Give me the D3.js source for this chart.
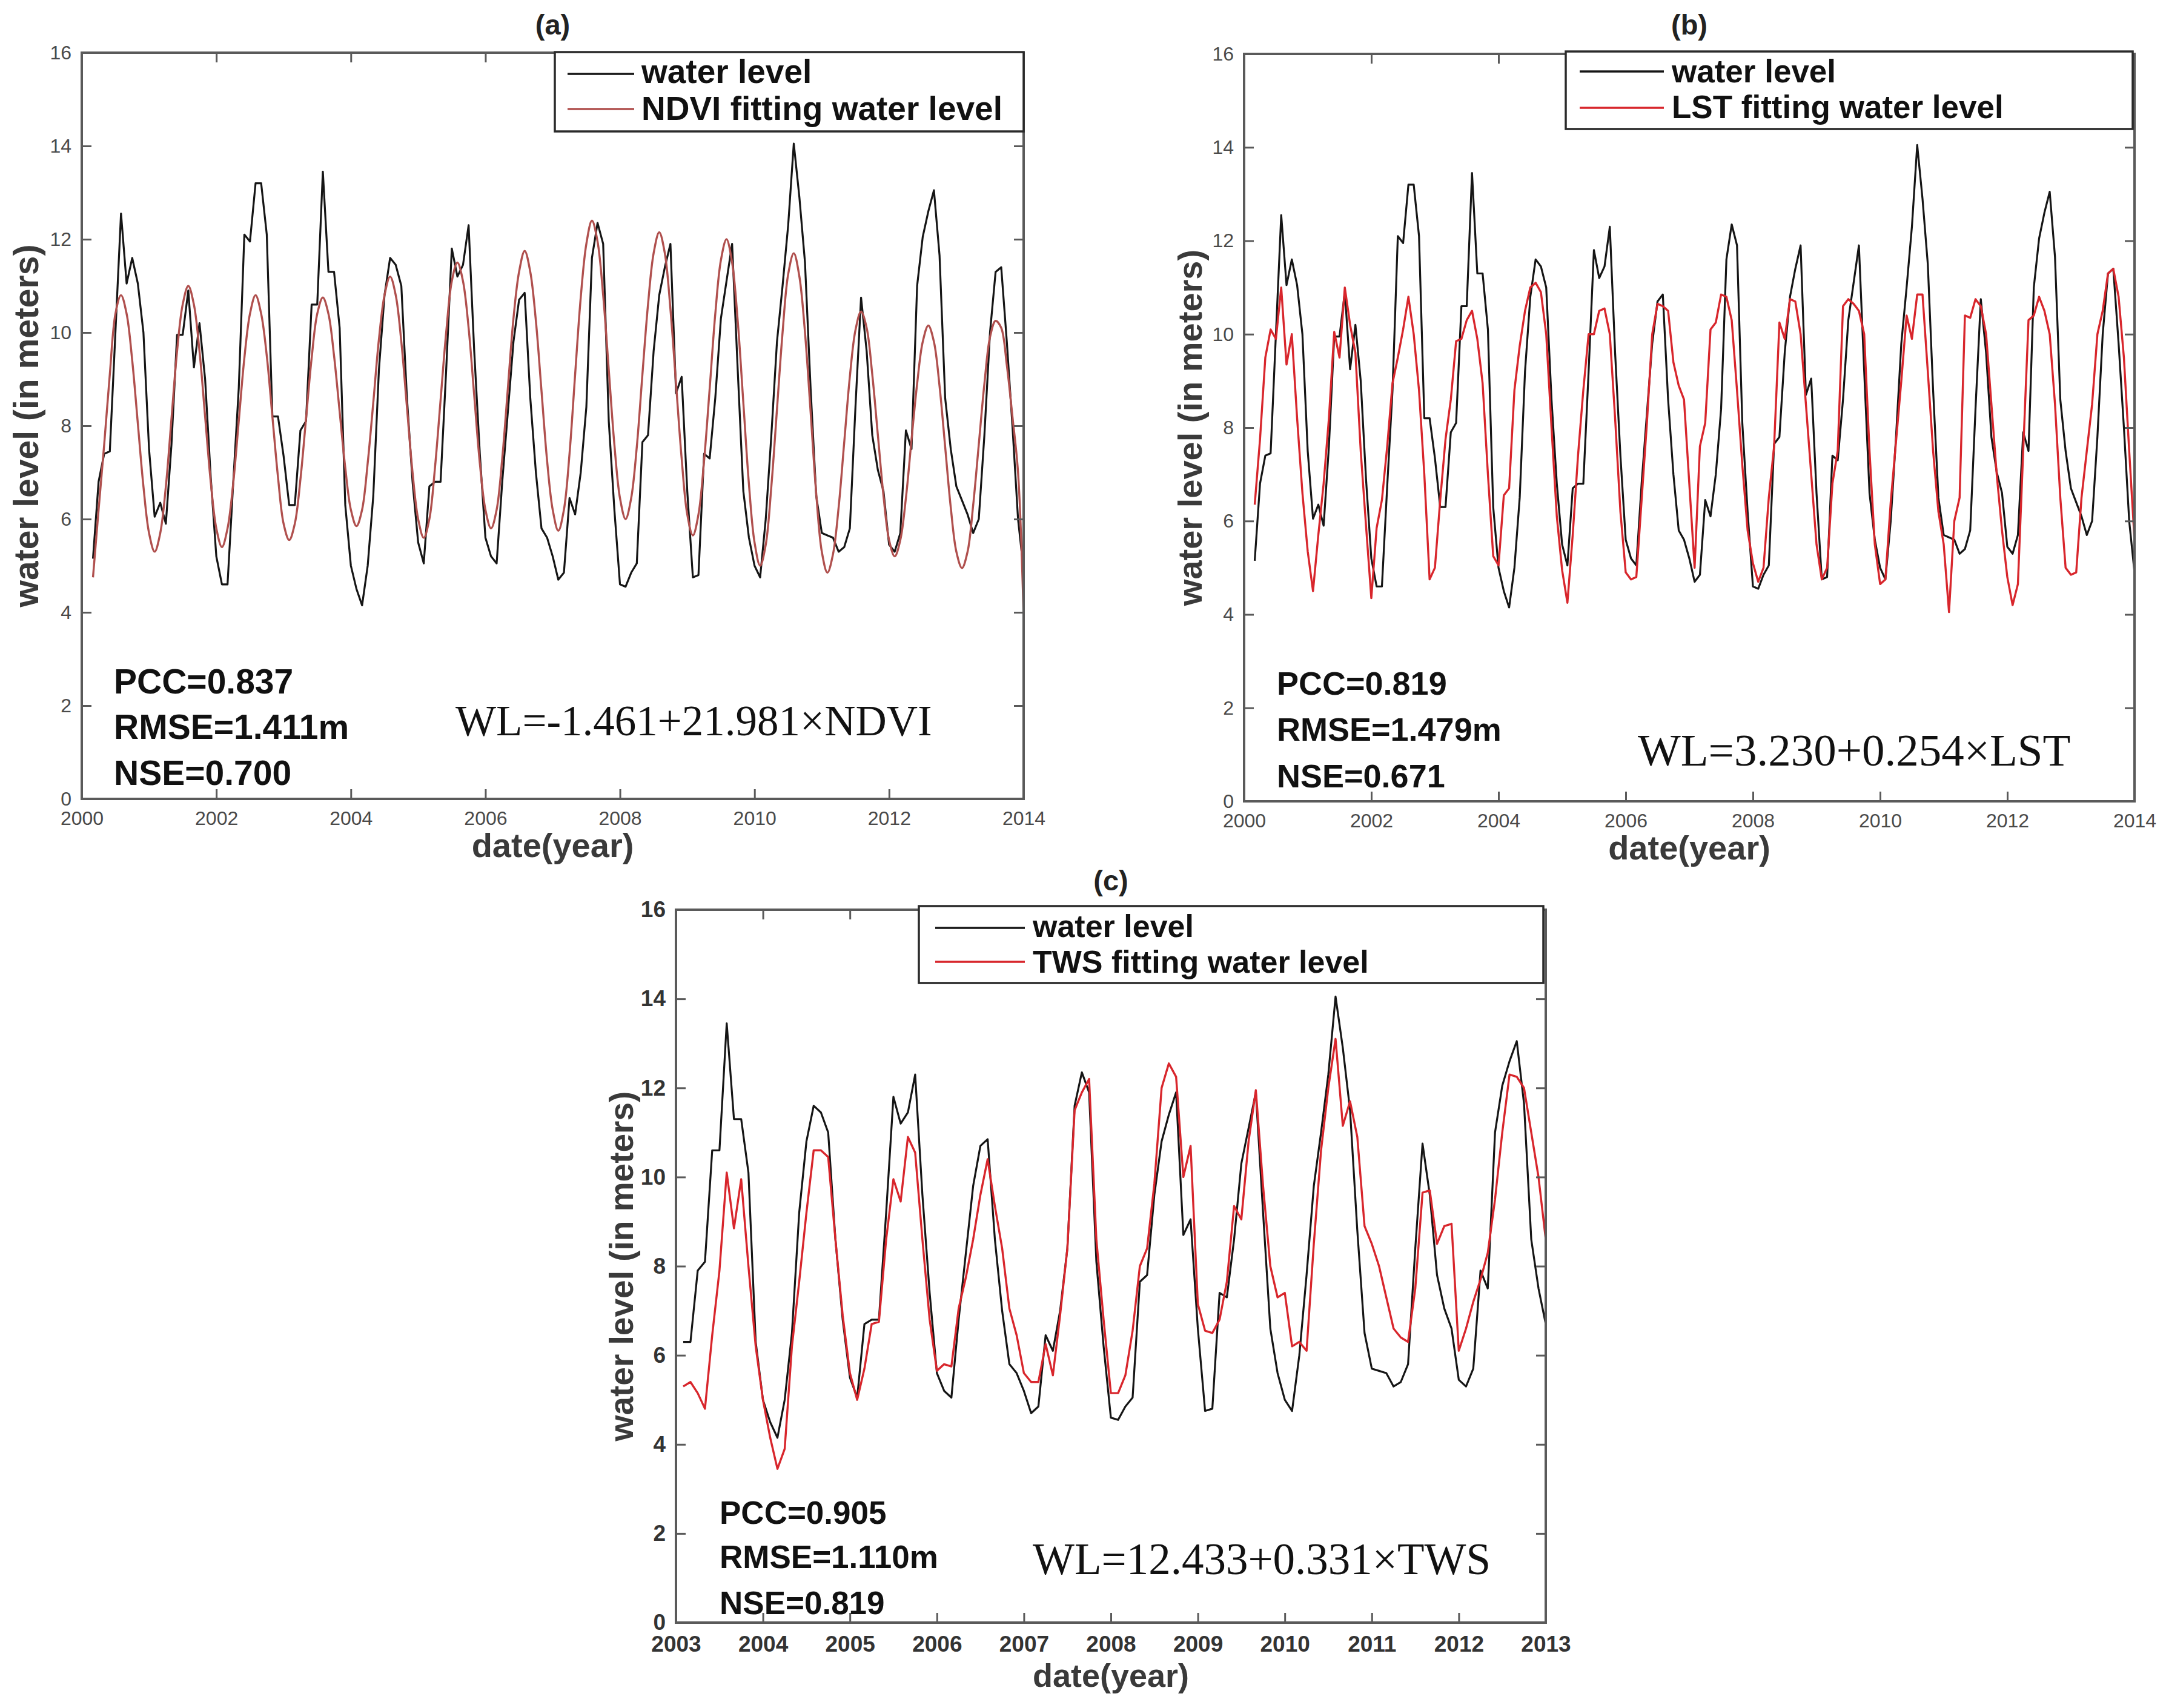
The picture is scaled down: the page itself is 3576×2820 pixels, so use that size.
<!DOCTYPE html>
<html>
<head>
<meta charset="utf-8">
<script src="https://cdn.jsdelivr.net/npm/d3@7"></script>
<style>
  body { margin: 0; background: #fff; }
  svg { display: block; }
</style>
</head>
<body>
<script>
// ---- data (monthly) ----
// month index 0 = Jan 2000, each value plotted at 2000 + (index + 1) / 12

// observed water level, Feb 2000 - Dec 2013
const waterStart = 1;
const waterLevel = [
  5.15, 6.8, 7.4, 7.45, 10.0, 12.55, 11.05, 11.6, 11.05, 10.0, 7.5,
  6.05, 6.35, 5.9, 7.6, 9.95, 9.95, 10.9, 9.25, 10.2, 9.0, 6.9, 5.2,
  4.6, 4.6, 6.75, 8.8, 12.1, 11.95, 13.2, 13.2, 12.1, 8.2, 8.2, 7.35,
  6.3, 6.3, 7.9, 8.1, 10.6, 10.6, 13.45, 11.3, 11.3, 10.1, 6.3, 5.0,
  4.5, 4.15, 5.0, 6.5, 9.2, 10.8, 11.6, 11.45, 11.0, 8.6, 6.8, 5.5,
  5.05, 6.7, 6.8, 6.8, 9.2, 11.8, 11.2, 11.45, 12.3, 9.6, 7.4, 5.6,
  5.2, 5.05, 6.8, 8.3, 9.8, 10.7, 10.85, 8.6, 7.0, 5.8, 5.6, 5.2,
  4.7, 4.85, 6.45, 6.1, 7.0, 8.4, 11.6, 12.35, 11.9, 8.1, 6.2, 4.6,
  4.55, 4.85, 5.05, 7.65, 7.8, 9.6, 10.8, 11.4, 11.9, 8.7, 9.05, 6.6,
  4.75, 4.8, 7.4, 7.3, 8.6, 10.3, 11.1, 11.9, 9.2, 6.6, 5.6, 5.0,
  4.75, 6.0, 7.8, 9.8, 11.0, 12.3, 14.05, 12.9, 11.5, 8.8, 6.5, 5.7,
  5.65, 5.6, 5.3, 5.4, 5.8, 8.4, 10.75, 9.6, 7.8, 7.05, 6.6, 5.45,
  5.3, 5.7, 7.9, 7.5, 11.0, 12.05, 12.6, 13.05, 11.65, 8.6, 7.5, 6.7,
  6.4, 6.1, 5.7, 6.0, 7.8, 10.0, 11.3, 11.4, 9.8, 8.0, 6.0, 4.9
];

// NDVI fitted water level, Feb 2000 - Dec 2013
const ndviStart = 1;
const ndviFit = [
  4.75, 6.2, 7.6, 9.1, 10.4, 10.8, 10.4, 9.4, 8.05, 6.7, 5.7,
  5.3, 5.7, 6.7, 8.15, 9.6, 10.6, 11.0, 10.6, 9.6, 8.2, 6.8, 5.8,
  5.4, 5.8, 6.75, 8.1, 9.45, 10.4, 10.8, 10.4, 9.5, 8.2, 6.9, 5.9,
  5.55, 5.9, 6.85, 8.15, 9.45, 10.4, 10.75, 10.4, 9.5, 8.3, 7.1, 6.2,
  5.85, 6.2, 7.2, 8.5, 9.85, 10.8, 11.2, 10.8, 9.8, 8.4, 7.0, 6.0,
  5.6, 6.0, 7.1, 8.55, 10.0, 11.1, 11.5, 11.1, 10.1, 8.65, 7.2, 6.2,
  5.8, 6.2, 7.3, 8.8, 10.3, 11.3, 11.75, 11.3, 10.25, 8.75, 7.25, 6.2,
  5.75, 6.2, 7.4, 9.1, 10.75, 11.9, 12.4, 11.95, 10.8, 9.2, 7.6, 6.45,
  6.0, 6.45, 7.55, 9.1, 10.6, 11.7, 12.15, 11.7, 10.5, 8.9, 7.3, 6.1,
  5.65, 6.1, 7.25, 8.8, 10.4, 11.55, 12.0, 11.5, 10.25, 8.5, 6.75, 5.5,
  5.0, 5.45, 6.7, 8.35, 10.0, 11.25, 11.7, 11.2, 10.0, 8.3, 6.55, 5.3,
  4.85, 5.25, 6.25, 7.65, 9.05, 10.05, 10.45, 10.1, 9.1, 7.8, 6.5, 5.55,
  5.2, 5.55, 6.45, 7.7, 8.9, 9.8, 10.15, 9.8, 8.85, 7.55, 6.25, 5.3,
  4.95, 5.3, 6.3, 7.6, 8.9, 9.9, 10.25, 10.1, 9.3, 8.2, 7.0, 3.9
];

// LST fitted water level, Feb 2000 - Dec 2013
const lstStart = 1;
const lstFit = [
  6.35, 7.75, 9.5, 10.1, 9.9, 11.0, 9.35, 10.0, 8.2, 6.6, 5.35,
  4.5, 5.7, 6.8, 8.2, 10.05, 9.5, 11.0, 10.2, 9.6, 7.5, 5.9, 4.35,
  5.85, 6.45, 7.6, 8.95, 9.5, 10.1, 10.8, 10.0, 8.8, 7.0, 4.75, 5.0,
  6.45, 7.75, 8.6, 9.85, 9.9, 10.3, 10.5, 9.9, 8.95, 7.0, 5.25, 5.05,
  6.55, 6.7, 8.8, 9.75, 10.5, 11.0, 11.1, 10.9, 10.0, 8.0, 6.1, 4.95,
  4.25, 5.7, 7.4, 8.8, 10.0, 10.0, 10.5, 10.55, 10.0, 8.2, 6.2, 4.9,
  4.75, 4.8, 6.45, 8.1, 10.0, 10.65, 10.6, 10.5, 9.4, 8.9, 8.6, 6.8,
  5.0, 7.6, 8.1, 10.1, 10.25, 10.85, 10.8, 10.3, 8.8, 7.2, 5.8, 5.1,
  4.7, 5.0, 6.5, 7.6, 10.25, 9.9, 10.75, 10.7, 10.0, 8.5, 7.0, 5.5,
  4.75, 5.0, 6.8, 7.5, 10.6, 10.75, 10.65, 10.5, 10.0, 7.5, 5.5, 4.65,
  4.75, 6.4, 7.7, 9.0, 10.4, 9.9, 10.85, 10.85, 9.2, 7.5, 6.2, 5.5,
  4.05, 6.0, 6.5, 10.4, 10.35, 10.75, 10.6, 10.0, 8.5, 7.0, 5.8, 4.8,
  4.2, 4.65, 7.5, 10.3, 10.4, 10.8, 10.5, 10.0, 8.5, 6.5, 5.0, 4.85,
  4.9, 6.5, 7.5, 8.5, 10.0, 10.5, 11.3, 11.4, 10.8, 9.5, 7.5, 5.6
];

// TWS fitted water level, Jan 2003 - Dec 2012
const twsStart = 36;
const twsFit = [
  5.3, 5.4, 5.15, 4.8, 6.45, 7.9, 10.1, 8.85, 9.95, 8.0, 6.2, 5.0,
  4.15, 3.45, 3.9, 6.2, 7.65, 9.2, 10.6, 10.6, 10.45, 8.6, 6.9, 5.6,
  5.0, 5.7, 6.7, 6.75, 8.6, 9.95, 9.45, 10.9, 10.55, 8.6, 6.8, 5.65,
  5.8, 5.75, 7.05, 7.75, 8.6, 9.6, 10.4, 9.35, 8.4, 7.05, 6.45, 5.6,
  5.4, 5.4, 6.25, 5.55, 6.9, 8.4, 11.5, 11.9, 12.2, 8.6, 6.8, 5.15,
  5.15, 5.55, 6.55, 8.0, 8.4, 9.85, 12.0, 12.55, 12.25, 10.0, 10.7, 7.15,
  6.55, 6.5, 6.8, 7.65, 9.35, 9.05, 10.8, 11.95, 9.8, 8.0, 7.3, 7.4,
  6.2, 6.3, 6.1, 8.5, 10.6, 12.0, 13.1, 11.15, 11.7, 10.9, 8.9, 8.5,
  8.0, 7.3, 6.6, 6.4, 6.3, 7.5, 9.65, 9.7, 8.5, 8.9, 8.95, 6.1,
  6.6, 7.2, 7.7, 8.3, 9.5, 11.0, 12.3, 12.25, 12.0, 11.0, 10.0, 8.6
];

const yTicks = [0, 2, 4, 6, 8, 10, 12, 14, 16];
const xTicksLong = [2000, 2002, 2004, 2006, 2008, 2010, 2012, 2014];
const xTicksShort = [2003, 2004, 2005, 2006, 2007, 2008, 2009, 2010, 2011, 2012, 2013];

const panelTitles = ["(a)", "(b)", "(c)"];
const fitLabels = ["NDVI fitting water level", "LST fitting water level", "TWS fitting water level"];
const statLines = [
  ["PCC=0.837", "RMSE=1.411m", "NSE=0.700"],
  ["PCC=0.819", "RMSE=1.479m", "NSE=0.671"],
  ["PCC=0.905", "RMSE=1.110m", "NSE=0.819"]
];
const equations = ["WL=-1.461+21.981×NDVI", "WL=3.230+0.254×LST", "WL=12.433+0.331×TWS"];

// ---- layout ----
const SANS = "'Liberation Sans', Arial, Helvetica, sans-serif";
const SERIF = "'Liberation Serif', 'Times New Roman', serif";

const panels = [
  {
    left: 135, right: 1690, top: 87, bottom: 1319,
    xDomain: [2000, 2014], xTicks: xTicksLong,
    fit: ndviFit, fitStart: ndviStart, fitColor: "#b0504e", smooth: true,
    tickFont: 32, tickBold: false, tickColor: "#4a4a4a",
    titleY: 57,
    legend: { x0: 916, x1: 1690, y0: 86, y1: 217, l0: 937, l1: 1047, ly: [122, 180], ty: [137, 198], tx: 1059, font: 55 },
    stats: { x: 188, y: [1145, 1220, 1296], font: 57 },
    eq: { x: 752, y: 1214, font: 71 },
    yLabel: { x: 63, font: 57 }, xLabel: { y: 1415, font: 56 }
  },
  {
    left: 2054, right: 3524, top: 89, bottom: 1323,
    xDomain: [2000, 2014], xTicks: xTicksLong,
    fit: lstFit, fitStart: lstStart, fitColor: "#d8262c", smooth: false,
    tickFont: 32, tickBold: false, tickColor: "#4a4a4a",
    titleY: 57,
    legend: { x0: 2585, x1: 3521, y0: 85, y1: 213, l0: 2608, l1: 2747, ly: [118, 178], ty: [136, 195], tx: 2760, font: 53 },
    stats: { x: 2108, y: [1147, 1223, 1300], font: 54 },
    eq: { x: 2704, y: 1264, font: 75 },
    yLabel: { x: 1984, font: 56 }, xLabel: { y: 1419, font: 56 }
  },
  {
    left: 1116, right: 2552, top: 1502, bottom: 2679,
    xDomain: [2003, 2013], xTicks: xTicksShort,
    fit: twsFit, fitStart: twsStart, fitColor: "#d8262c", smooth: false,
    tickFont: 37, tickBold: true, tickColor: "#333",
    titleY: 1470,
    legend: { x0: 1517, x1: 2548, y0: 1496, y1: 1623, l0: 1544, l1: 1692, ly: [1532, 1588], ty: [1547, 1606], tx: 1705, font: 52 },
    stats: { x: 1188, y: [2516, 2589, 2665], font: 53 },
    eq: { x: 1705, y: 2599, font: 73 },
    yLabel: { x: 1045, font: 55 }, xLabel: { y: 2785, font: 54 }
  }
];

const svg = d3.select("body").append("svg")
  .attr("width", 3576)
  .attr("height", 2820)
  .attr("viewBox", "0 0 3576 2820");

svg.append("rect").attr("width", 3576).attr("height", 2820).attr("fill", "#fff");

function toPoints(values, start) {
  return values.map((v, i) => ({ t: 2000 + (start + i + 1) / 12, v: v }));
}

function styleAxis(sel, p, showText) {
  sel.select(".domain").remove();
  sel.selectAll(".tick line").attr("stroke", "#5a5a5a").attr("stroke-width", 3);
  sel.selectAll(".tick text")
    .style("font-family", SANS)
    .style("font-size", p.tickFont + "px")
    .style("font-weight", p.tickBold ? "bold" : "normal")
    .attr("fill", p.tickColor);
  if (!showText) sel.selectAll(".tick text").remove();
}

panels.forEach((p, idx) => {
  const x = d3.scaleLinear().domain(p.xDomain).range([p.left, p.right]);
  const y = d3.scaleLinear().domain([0, 16]).range([p.bottom, p.top]);
  const g = svg.append("g");

  const clipId = "clip" + idx;
  g.append("clipPath").attr("id", clipId)
    .append("rect")
    .attr("x", p.left).attr("y", p.top)
    .attr("width", p.right - p.left).attr("height", p.bottom - p.top);

  // series (first month after the domain start up to its end)
  const observed = toPoints(waterLevel, waterStart)
    .filter(d => d.t > p.xDomain[0] + 0.01 && d.t <= p.xDomain[1] + 1e-6);
  const fitted = toPoints(p.fit, p.fitStart);

  const line = d3.line().x(d => x(d.t)).y(d => y(d.v));
  const smoothLine = d3.line().x(d => x(d.t)).y(d => y(d.v)).curve(d3.curveCatmullRom.alpha(0.5));

  const plot = g.append("g").attr("clip-path", `url(#${clipId})`);
  plot.append("path")
    .datum(observed)
    .attr("fill", "none")
    .attr("stroke", "#151515")
    .attr("stroke-width", 3.2)
    .attr("stroke-linejoin", "round")
    .attr("d", line);
  plot.append("path")
    .datum(fitted)
    .attr("fill", "none")
    .attr("stroke", p.fitColor)
    .attr("stroke-width", 3.4)
    .attr("stroke-linejoin", "round")
    .attr("d", p.smooth ? smoothLine : line);

  // axes, ticks pointing inward on all four sides
  const tick = 16;
  g.append("g")
    .attr("transform", `translate(0,${p.bottom})`)
    .call(d3.axisBottom(x).tickValues(p.xTicks).tickFormat(d3.format("d"))
      .tickSizeInner(-tick).tickSizeOuter(0).tickPadding(p.tickBold ? 22 : 20))
    .call(s => styleAxis(s, p, true));
  g.append("g")
    .attr("transform", `translate(0,${p.top})`)
    .call(d3.axisTop(x).tickValues(p.xTicks).tickSizeInner(-tick).tickSizeOuter(0))
    .call(s => styleAxis(s, p, false));
  g.append("g")
    .attr("transform", `translate(${p.left},0)`)
    .call(d3.axisLeft(y).tickValues(yTicks).tickFormat(d3.format("d"))
      .tickSizeInner(-tick).tickSizeOuter(0).tickPadding(17))
    .call(s => styleAxis(s, p, true));
  g.append("g")
    .attr("transform", `translate(${p.right},0)`)
    .call(d3.axisRight(y).tickValues(yTicks).tickSizeInner(-tick).tickSizeOuter(0))
    .call(s => styleAxis(s, p, false));

  g.append("rect")
    .attr("x", p.left).attr("y", p.top)
    .attr("width", p.right - p.left).attr("height", p.bottom - p.top)
    .attr("fill", "none")
    .attr("stroke", "#5a5a5a")
    .attr("stroke-width", 4);

  // legend
  const L = p.legend;
  g.append("rect")
    .attr("x", L.x0).attr("y", L.y0)
    .attr("width", L.x1 - L.x0).attr("height", L.y1 - L.y0)
    .attr("fill", "#fff")
    .attr("stroke", "#2a2a2a")
    .attr("stroke-width", 3.5);
  const legendItems = [
    { label: "water level", color: "#151515" },
    { label: fitLabels[idx], color: p.fitColor }
  ];
  legendItems.forEach((item, i) => {
    g.append("line")
      .attr("x1", L.l0).attr("x2", L.l1)
      .attr("y1", L.ly[i]).attr("y2", L.ly[i])
      .attr("stroke", item.color)
      .attr("stroke-width", 3.5);
    g.append("text")
      .attr("x", L.tx).attr("y", L.ty[i])
      .style("font-family", SANS)
      .style("font-size", L.font + "px")
      .style("font-weight", "bold")
      .attr("fill", "#111")
      .text(item.label);
  });

  // statistics
  statLines[idx].forEach((s, i) => {
    g.append("text")
      .attr("x", p.stats.x).attr("y", p.stats.y[i])
      .style("font-family", SANS)
      .style("font-size", p.stats.font + "px")
      .style("font-weight", "bold")
      .attr("fill", "#111")
      .text(s);
  });

  // regression equation
  g.append("text")
    .attr("x", p.eq.x).attr("y", p.eq.y)
    .style("font-family", SERIF)
    .style("font-size", p.eq.font + "px")
    .attr("fill", "#111")
    .text(equations[idx]);

  // axis labels and panel title
  const cx = (p.left + p.right) / 2;
  const cy = (p.top + p.bottom) / 2;
  g.append("text")
    .attr("x", cx).attr("y", p.xLabel.y)
    .attr("text-anchor", "middle")
    .style("font-family", SANS)
    .style("font-size", p.xLabel.font + "px")
    .style("font-weight", "bold")
    .attr("fill", "#3a3a3a")
    .text("date(year)");
  g.append("text")
    .attr("transform", `translate(${p.yLabel.x},${cy}) rotate(-90)`)
    .attr("text-anchor", "middle")
    .style("font-family", SANS)
    .style("font-size", p.yLabel.font + "px")
    .style("font-weight", "bold")
    .attr("fill", "#3a3a3a")
    .text("water level (in meters)");
  g.append("text")
    .attr("x", cx).attr("y", p.titleY)
    .attr("text-anchor", "middle")
    .style("font-family", SANS)
    .style("font-size", "47px")
    .style("font-weight", "bold")
    .attr("fill", "#222")
    .text(panelTitles[idx]);
});
</script>
</body>
</html>
